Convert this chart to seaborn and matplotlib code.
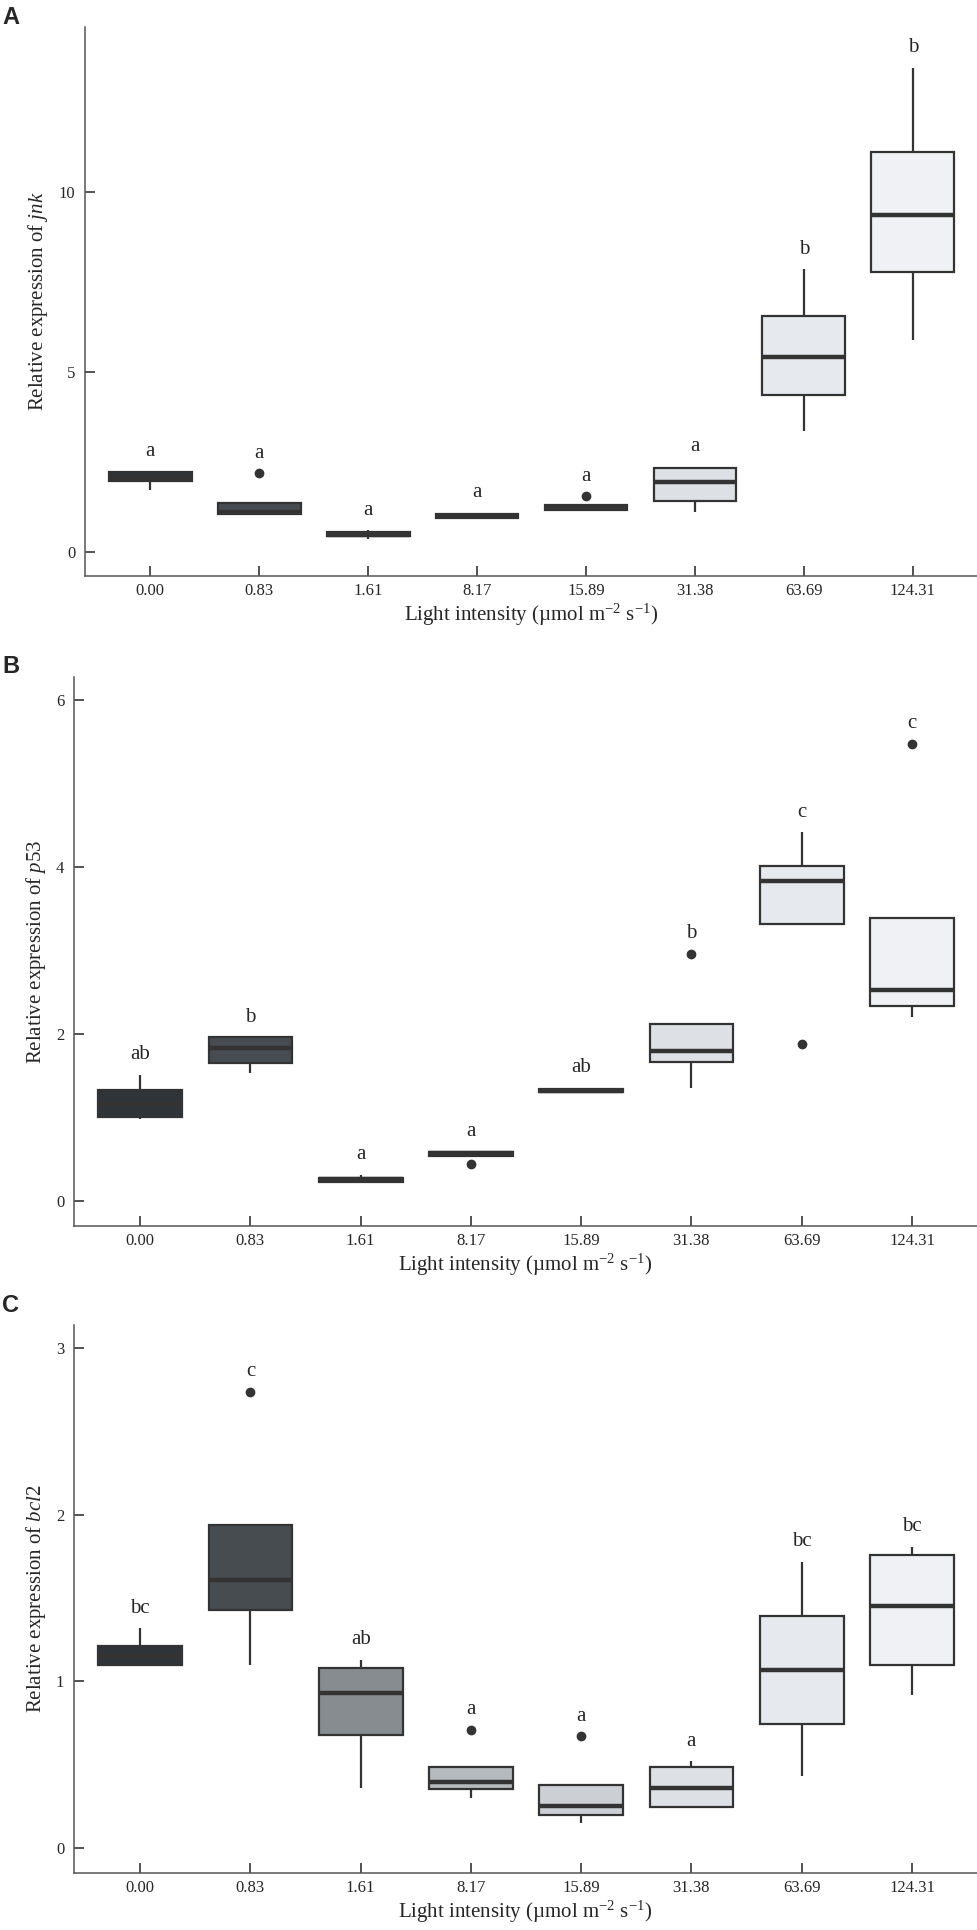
import matplotlib
matplotlib.use("Agg")
import matplotlib.pyplot as plt
import seaborn as sns
import pandas as pd

intensity = ["0.00", "0.83", "1.61", "8.17", "15.89", "31.38", "63.69", "124.31"]

# panel A - jnk : whisker low, Q1, median, Q3, whisker high, outliers
jnk_low = [1.72, 1.06, 0.35, 0.94, 1.15, 1.11, 3.35, 5.89]
jnk_q1 = [1.97, 1.06, 0.44, 0.94, 1.17, 1.42, 4.37, 7.78]
jnk_med = [2.05, 1.10, 0.48, 0.99, 1.22, 1.94, 5.42, 9.36]
jnk_q3 = [2.22, 1.36, 0.55, 1.05, 1.30, 2.33, 6.56, 11.11]
jnk_high = [2.22, 1.36, 0.60, 1.08, 1.30, 2.36, 7.86, 13.47]
jnk_out = [[], [2.19], [], [], [1.55], [], [], []]
jnk_sig = ["a", "a", "a", "a", "a", "a", "b", "b"]

# panel B - p53
p53_low = [0.98, 1.53, 0.22, 0.54, 1.29, 1.35, 3.31, 2.20]
p53_q1 = [1.00, 1.65, 0.23, 0.54, 1.30, 1.66, 3.31, 2.33]
p53_med = [1.16, 1.83, 0.26, 0.57, 1.32, 1.80, 3.83, 2.53]
p53_q3 = [1.33, 1.96, 0.28, 0.59, 1.34, 2.12, 4.01, 3.39]
p53_high = [1.51, 1.96, 0.31, 0.59, 1.35, 2.12, 4.41, 3.39]
p53_out = [[], [], [], [0.44], [], [2.96], [1.88], [5.47]]
p53_sig = ["ab", "b", "a", "a", "ab", "b", "c", "c"]

# panel C - bcl2
bcl2_low = [1.10, 1.10, 0.36, 0.30, 0.15, 0.245, 0.43, 0.92]
bcl2_q1 = [1.10, 1.43, 0.68, 0.355, 0.20, 0.245, 0.745, 1.10]
bcl2_med = [1.15, 1.61, 0.93, 0.395, 0.25, 0.36, 1.07, 1.45]
bcl2_q3 = [1.21, 1.94, 1.08, 0.485, 0.38, 0.485, 1.39, 1.76]
bcl2_high = [1.32, 1.94, 1.13, 0.485, 0.38, 0.52, 1.72, 1.81]
bcl2_out = [[], [2.74], [], [0.71], [0.67], [], [], []]
bcl2_sig = ["bc", "c", "ab", "a", "a", "a", "bc", "bc"]

colors = ["#2e3439", "#454c53", "#858c92", "#b4babf", "#cbd0d6", "#dce0e6", "#e5e9ef", "#eef1f5"]
dark = "#333333"

sns.set_style("white")
plt.rcParams["font.family"] = ["Liberation Serif", "DejaVu Serif"]
plt.rcParams["mathtext.fontset"] = "custom"
plt.rcParams["mathtext.rm"] = "Liberation Serif"
plt.rcParams["mathtext.it"] = "Liberation Serif:italic"


def make_frame(low, q1, med, q3, high, out):
    # rebuild a sample per group whose quartiles/whiskers match the read values
    rows = []
    for i, lab in enumerate(intensity):
        vals = [low[i], q1[i], q1[i], q1[i], med[i], med[i], med[i],
                q3[i], q3[i], q3[i], high[i]] + out[i]
        for v in vals:
            rows.append({"intensity": lab, "value": v})
    return pd.DataFrame(rows)


def draw_panel(ax, df, high, out, sig, gene, ylim, yticks):
    sns.boxplot(data=df, x="intensity", y="value", hue="intensity", order=intensity,
                hue_order=intensity, palette=colors, legend=False, width=0.76,
                linecolor=dark, linewidth=1.6, showcaps=False, whis=1.5,
                fliersize=6,
                flierprops=dict(marker="o", markerfacecolor=dark, markeredgecolor=dark),
                medianprops=dict(linewidth=3.2, color=dark), ax=ax)
    for i, s in enumerate(sig):
        top = max([high[i]] + out[i])
        ax.annotate(s, (i, top), xytext=(0, 14.5), textcoords="offset points",
                    ha="center", va="center", fontsize=15)
    ax.set_xlim(-0.6, 7.59)
    ax.set_ylim(*ylim)
    ax.set_yticks(yticks)
    sns.despine(ax=ax)
    for sp in ["left", "bottom"]:
        ax.spines[sp].set_color("#555555")
        ax.spines[sp].set_linewidth(1.1)
    ax.tick_params(axis="x", bottom=True, direction="in", length=7, width=1.3, pad=5,
                   labelsize=12, color="#444444")
    ax.tick_params(axis="y", left=True, direction="in", length=7, width=1.3, pad=7,
                   labelsize=12, color="#444444")
    ax.set_xlabel("Light intensity (µmol m$^{-2}$ s$^{-1}$)", fontsize=15, labelpad=2)
    ax.set_ylabel("Relative expression of $\\mathit{" + gene + "}$", fontsize=15, labelpad=6)


W, H = 977, 1930
fig = plt.figure(figsize=(W / 100, H / 100), dpi=100)

axA = fig.add_axes([85 / W, 1 - 576 / H, (W - 85) / W, 549 / H])
axB = fig.add_axes([74 / W, 1 - 1226 / H, (W - 74) / W, 549 / H])
axC = fig.add_axes([74 / W, 1 - 1873 / H, (W - 74) / W, 548 / H])

draw_panel(axA, make_frame(jnk_low, jnk_q1, jnk_med, jnk_q3, jnk_high, jnk_out),
           jnk_high, jnk_out, jnk_sig, "jnk", (-0.67, 14.6), [0, 5, 10])
draw_panel(axB, make_frame(p53_low, p53_q1, p53_med, p53_q3, p53_high, p53_out),
           p53_high, p53_out, p53_sig, "p53", (-0.30, 6.27), [0, 2, 4, 6])
draw_panel(axC, make_frame(bcl2_low, bcl2_q1, bcl2_med, bcl2_q3, bcl2_high, bcl2_out),
           bcl2_high, bcl2_out, bcl2_sig, "bcl2", (-0.15, 3.14), [0, 1, 2, 3])

for letter, ytop in [("A", 6), ("B", 655), ("C", 1294)]:
    fig.text(2 / W, 1 - ytop / H, letter, fontsize=17, fontweight="bold",
             family="Liberation Sans", ha="left", va="top")

fig.savefig("out.png", dpi=100)
